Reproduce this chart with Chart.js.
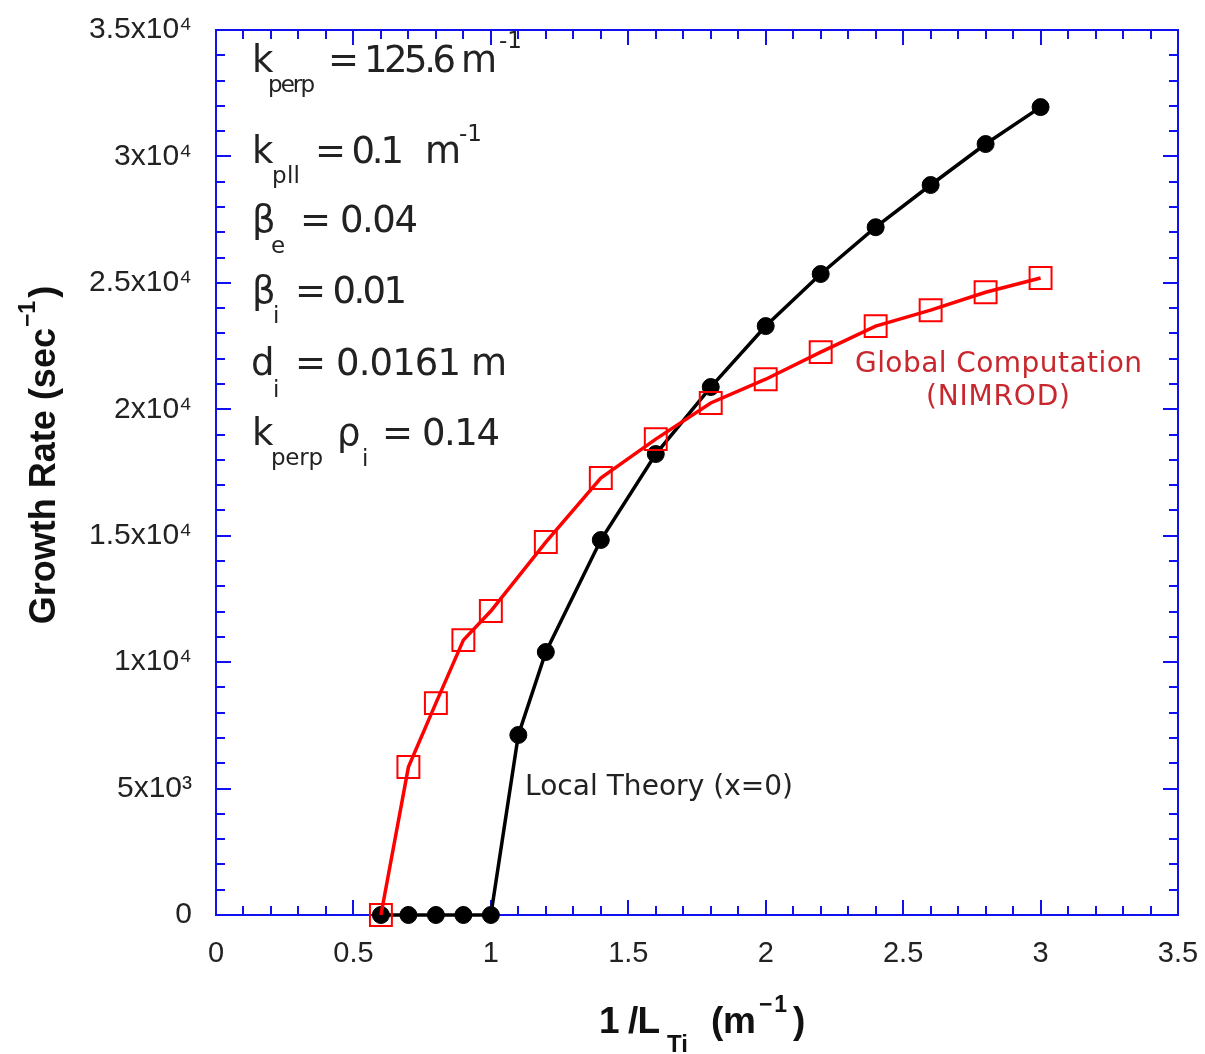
<!DOCTYPE html>
<html>
<head>
<meta charset="utf-8">
<title>Growth Rate vs 1/L_Ti</title>
<script src="https://cdn.jsdelivr.net/npm/chart.js@4.4.1/dist/chart.umd.min.js"></script>
<style>
  html, body { margin: 0; padding: 0; background: #fff; }
  canvas { display: block; }
</style>
</head>
<body>
<canvas id="chart" width="1205" height="1054"></canvas>
<script>
// Local theory (x=0): black filled circles
const localX = [0.6, 0.7, 0.8, 0.9, 1.0, 1.1, 1.2, 1.4, 1.6, 1.8, 2.0, 2.2, 2.4, 2.6, 2.8, 3.0];
const localRate = [0, 0, 0, 0, 0, 7120, 10400, 14830, 18230, 20880, 23290, 25350, 27200, 28870, 30490, 31950];

// Global computation (NIMROD): red open squares
const globalX = [0.6, 0.7, 0.8, 0.9, 1.0, 1.2, 1.4, 1.6, 1.8, 2.0, 2.2, 2.4, 2.6, 2.8, 3.0];
const globalRate = [0, 5850, 8380, 10870, 12020, 14750, 17280, 18820, 20250, 21190, 22260, 23290, 23920, 24630, 25190];

// Tick labels
const yTickLabels = ['0', '5x10\u00B3', '1x10\u2074', '1.5x10\u2074', '2x10\u2074', '2.5x10\u2074', '3x10\u2074', '3.5x10\u2074'];
const xTickLabels = ['0', '0.5', '1', '1.5', '2', '2.5', '3', '3.5'];

const FONT = '"Liberation Sans", Arial, Helvetica, sans-serif';
const NOTE_FONT = '"DejaVu Sans", "Liberation Sans", sans-serif';
const AXIS_BLUE = '#1010f0';
const TEXT = '#222';
const RED_TEXT = '#c8282d';

function toPoints(xs, ys) {
    return xs.map((x, i) => ({ x: x, y: ys[i] }));
}

// Text pieces: [text, left x, baseline y, size, color, bold, target width]
const annotations = [
    ['k', 252, 72, 37, TEXT], ['perp', 268, 92, 23, TEXT, false, 47], ['= 125.6 m', 328, 72, 37, TEXT, false, 169], ['-1', 499, 48, 23, TEXT],
    ['k', 252, 163, 37, TEXT], ['pll', 272, 183, 23, TEXT, false, 28], ['= 0.1', 315, 163, 37, TEXT, false, 89], ['m', 425, 163, 37, TEXT], ['-1', 459, 141, 23, TEXT],
    ['\u03B2', 252, 232, 37, TEXT], ['e', 271, 253, 23, TEXT], ['= 0.04', 300, 232, 37, TEXT, false, 118],
    ['\u03B2', 252, 303, 37, TEXT], ['i', 273, 323, 23, TEXT], ['= 0.01', 295, 303, 37, TEXT, false, 112],
    ['d', 251, 375, 37, TEXT], ['i', 273, 397, 23, TEXT], ['= 0.0161 m', 295, 375, 37, TEXT, false, 212],
    ['k', 252, 445, 37, TEXT], ['perp', 271, 465, 23, TEXT, false, 52], ['\u03C1', 337, 445, 37, TEXT], ['i', 362, 466, 23, TEXT], ['= 0.14', 382, 445, 37, TEXT, false, 118],
    ['Local Theory (x=0)', 525, 795, 28, TEXT, false, 268],
    ['Global Computation', 855, 372, 28, RED_TEXT, false, 287], ['(NIMROD)', 926, 405, 28, RED_TEXT, false, 144],
    // x axis title
    ['1 /L', 599, 1033, 37, '#111', true, 61], ['Ti', 667, 1052, 24, '#111', true, 21], ['(m', 711, 1033, 37, '#111', true, 45],
    ['\u22121', 759, 1012, 23, '#111', true, 28], [')', 793, 1033, 37, '#111', true]
];

function drawPiece(ctx, t, x, y, size, color, bold, width) {
    ctx.font = bold ? 'bold ' + size + 'px ' + FONT : size + 'px ' + NOTE_FONT;
    ctx.fillStyle = color;
    if (width && t.length > 1 && 'letterSpacing' in ctx) {
        const w = ctx.measureText(t).width;
        ctx.letterSpacing = ((width - w) / (t.length - 1)).toFixed(2) + 'px';
    }
    ctx.fillText(t, x, y);
    if ('letterSpacing' in ctx) ctx.letterSpacing = '0px';
}

const framePlugin = {
    id: 'frame',
    beforeDatasetsDraw(chart) {
        const { ctx, chartArea: a, scales } = chart;
        ctx.save();
        ctx.strokeStyle = AXIS_BLUE;
        ctx.lineWidth = 2;
        ctx.strokeRect(a.left, a.top, a.right - a.left, a.bottom - a.top);
        ctx.beginPath();
        // x ticks every 0.1, major every 0.5, on bottom and top
        for (let i = 0; i <= 35; i++) {
            const px = Math.round(scales.x.getPixelForValue(i / 10));
            const len = i % 5 === 0 ? 15 : 9;
            ctx.moveTo(px, a.bottom); ctx.lineTo(px, a.bottom - len);
            ctx.moveTo(px, a.top); ctx.lineTo(px, a.top + len);
        }
        // y ticks every 1000, major every 5000, on left and right
        for (let j = 0; j <= 35; j++) {
            const py = Math.round(scales.y.getPixelForValue(j * 1000));
            const len = j % 5 === 0 ? 15 : 9;
            ctx.moveTo(a.left, py); ctx.lineTo(a.left + len, py);
            ctx.moveTo(a.right, py); ctx.lineTo(a.right - len, py);
        }
        ctx.stroke();
        ctx.restore();
    },
    afterDraw(chart) {
        const ctx = chart.ctx;
        ctx.save();
        ctx.textBaseline = 'alphabetic';
        ctx.textAlign = 'left';
        annotations.forEach(([t, x, y, size, color, bold, width]) => {
            drawPiece(ctx, t, x, y, size, color, bold, width);
        });
        // y axis title, rotated
        ctx.translate(55, 455);
        ctx.rotate(-Math.PI / 2);
        const main = 'Growth Rate (sec';
        ctx.font = 'bold 36px ' + FONT;
        const w1 = ctx.measureText(main).width;
        ctx.font = 'bold 23px ' + FONT;
        const w2 = ctx.measureText('\u22121').width;
        ctx.font = 'bold 36px ' + FONT;
        const w3 = ctx.measureText(')').width;
        const total = w1 + w2 + w3 + 4;
        const start = -total / 2;
        drawPiece(ctx, main, start, 0, 36, '#111', true);
        drawPiece(ctx, '\u22121', start + w1 + 1, -20, 23, '#111', true);
        drawPiece(ctx, ')', start + w1 + w2 + 4, 0, 36, '#111', true);
        ctx.restore();
    }
};

new Chart(document.getElementById('chart'), {
    type: 'scatter',
    data: {
        datasets: [{
            label: 'Global Computation (NIMROD)',
            data: toPoints(globalX, globalRate),
            showLine: true,
            borderColor: '#ff0000',
            borderWidth: 3.5,
            pointStyle: 'rect',
            pointRadius: 15.5,
            pointBorderWidth: 2,
            pointBorderColor: '#ff0000',
            pointBackgroundColor: 'rgba(0,0,0,0)',
            tension: 0,
            clip: false
        }, {
            label: 'Local Theory (x=0)',
            data: toPoints(localX, localRate),
            showLine: true,
            borderColor: '#000000',
            borderWidth: 3.5,
            pointStyle: 'circle',
            pointRadius: 8.5,
            pointBorderWidth: 1,
            pointBorderColor: '#000000',
            pointBackgroundColor: '#000000',
            tension: 0,
            clip: false
        }]
    },
    options: {
        responsive: false,
        animation: false,
        layout: { padding: { top: 30, right: 27, left: 0, bottom: 0 } },
        plugins: {
            legend: { display: false },
            tooltip: { enabled: false }
        },
        scales: {
            x: {
                type: 'linear',
                min: 0,
                max: 3.5,
                grid: { display: false, drawTicks: false },
                border: { display: false },
                ticks: {
                    stepSize: 0.5,
                    padding: 22,
                    color: TEXT,
                    font: { family: FONT, size: 29 },
                    maxRotation: 0,
                    callback: (v) => xTickLabels[Math.round(v * 2)]
                },
                afterFit: (s) => { s.height = 139; s.paddingLeft = 0; s.paddingRight = 0; }
            },
            y: {
                type: 'linear',
                min: 0,
                max: 35000,
                grid: { display: false, drawTicks: false },
                border: { display: false },
                ticks: {
                    stepSize: 5000,
                    padding: 24,
                    color: TEXT,
                    font: { family: FONT, size: 30 },
                    callback: (v) => yTickLabels[Math.round(v / 5000)]
                },
                afterFit: (s) => { s.width = 216; s.paddingTop = 0; s.paddingBottom = 0; }
            }
        }
    },
    plugins: [framePlugin]
});
</script>
</body>
</html>
